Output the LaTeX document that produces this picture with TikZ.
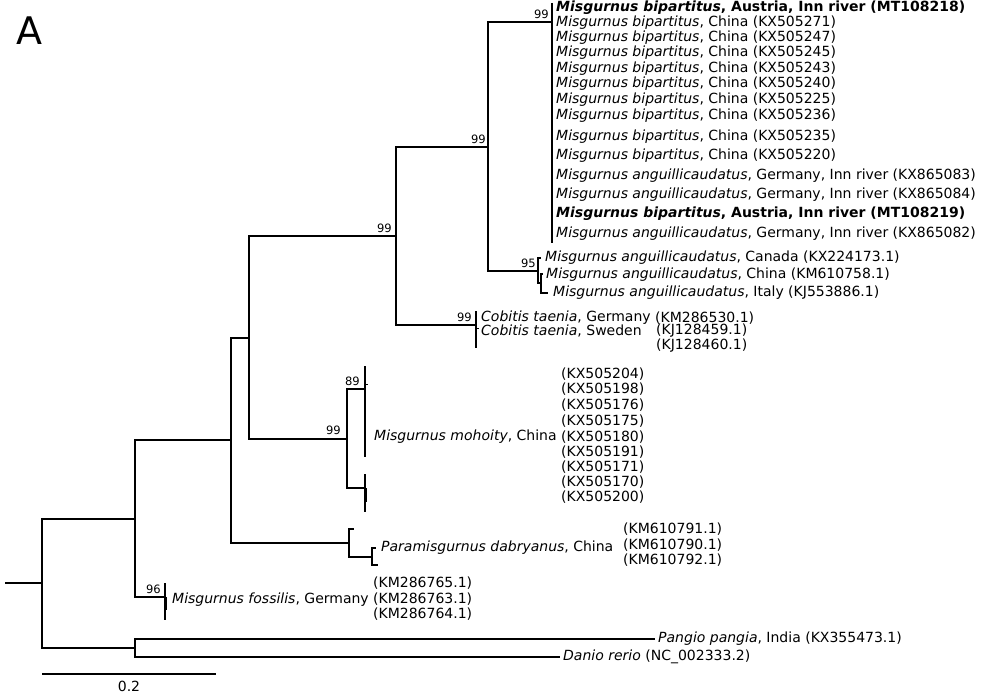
\documentclass[tikz,border=0pt]{standalone}
\usepackage{fontspec}
\setmainfont{DejaVu Sans}
\usetikzlibrary{positioning}

\tikzset{
  branch/.style={line width=1.7pt},
  tip/.style={anchor=west,inner sep=0pt,font=\fontsize{14}{16}\selectfont},
  boot/.style={anchor=south east,inner sep=0pt,font=\fontsize{11.5}{13}\selectfont},
}

\begin{document}
\begin{tikzpicture}[x=1pt,y=-1pt]
\useasboundingbox (0,0) rectangle (981,693);
\node[anchor=west,inner sep=0pt,font=\fontsize{38}{42}\selectfont] (panel) at (16,31) {A};

% internal nodes
\coordinate (r0) at (5,583);
\coordinate (root) at (42,583);
\coordinate (n1) at (135,519);
\coordinate (n2) at (135,648);
\coordinate (n3) at (231,440);
\coordinate (fos) at (165,597);
\coordinate (n4) at (249,338);
\coordinate (par) at (349,543);
\coordinate (n5) at (396,236);
\coordinate (moh) at (347,439);
\coordinate (n6) at (488,147);
\coordinate (cob) at (476,325);
\coordinate (bip) at (552,22);
\coordinate (ang) at (538,271);
\coordinate (ang2) at (541,283);
\coordinate (moh1) at (365,389);
\coordinate (moh2) at (365,488);
\coordinate (par1) at (372,557);

% tips
\coordinate (tcan) at (541,258);
\coordinate (tchi) at (543,274);
\coordinate (tita) at (548,293);
\coordinate (tpar1) at (354,529);
\coordinate (tpar2) at (376,548);
\coordinate (tpar3) at (378,565);
\coordinate (tpan) at (655,639);
\coordinate (tdan) at (560,657);

% collapsed clades
\coordinate (bipt) at (552,3);
\coordinate (bipb) at (552,243);
\coordinate (cobt) at (476,311);
\coordinate (cobb) at (476,348);
\coordinate (fost) at (165,583);
\coordinate (fosb) at (165,620);
\coordinate (moh1t) at (365,366);
\coordinate (moh1b) at (365,457);
\coordinate (moh2t) at (365,474);
\coordinate (moh2b) at (365,512);

\draw[branch] (r0) -- (root);
\draw[branch] (root) |- (n1);
\draw[branch] (root) |- (n2);
\draw[branch] (n1) |- (n3);
\draw[branch] (n1) |- (fos);
\draw[branch] (n2) |- (tpan);
\draw[branch] (n2) |- (tdan);
\draw[branch] (n3) |- (n4);
\draw[branch] (n3) |- (par);
\draw[branch] (n4) |- (n5);
\draw[branch] (n4) |- (moh);
\draw[branch] (n5) |- (n6);
\draw[branch] (n5) |- (cob);
\draw[branch] (n6) |- (bip);
\draw[branch] (n6) |- (ang);
\draw[branch] (ang) |- (tcan);
\draw[branch] (ang) |- (ang2);
\draw[branch] (ang2) |- (tchi);
\draw[branch] (ang2) |- (tita);
\draw[branch] (moh) |- (moh1);
\draw[branch] (moh) |- (moh2);
\draw[branch] (par) |- (tpar1);
\draw[branch] (par) |- (par1);
\draw[branch] (par1) |- (tpar2);
\draw[branch] (par1) |- (tpar3);

\draw[branch] (bipt) -- (bipb);
\draw[branch] (cobt) -- (cobb);
\draw[branch] (fost) -- (fosb);
\draw[branch] (moh1t) -- (moh1b);
\draw[branch] (moh2t) -- (moh2b);
\draw[line width=1pt] (cob |- 0,328) -- ++(3,0);
\draw[line width=1pt] (moh1 |- 0,384) -- ++(3,0);
\draw[line width=2.8pt] (166,597) -- (166,610);
\draw[line width=2.8pt] (366,488) -- (366,502);

% bootstrap values
\node[boot] (b1) at (549,19) {99};
\node[boot] (b2) at (486,144) {99};
\node[boot] (b3) at (392,233) {99};
\node[boot] (b4) at (472,322) {99};
\node[boot] (b5) at (536,268) {95};
\node[boot] (b6) at (360,386) {89};
\node[boot] (b7) at (341,435) {99};
\node[boot] (b8) at (161,594) {96};

% taxa
\node[tip] (t1) at (556,8) {\bfseries\textit{Misgurnus bipartitus}, Austria, Inn river (MT108218)};
\node[tip] (t2) at (556,23) {\textit{Misgurnus bipartitus}, China (KX505271)};
\node[tip] (t3) at (556,38) {\textit{Misgurnus bipartitus}, China (KX505247)};
\node[tip] (t4) at (556,53) {\textit{Misgurnus bipartitus}, China (KX505245)};
\node[tip] (t5) at (556,69) {\textit{Misgurnus bipartitus}, China (KX505243)};
\node[tip] (t6) at (556,84) {\textit{Misgurnus bipartitus}, China (KX505240)};
\node[tip] (t7) at (556,100) {\textit{Misgurnus bipartitus}, China (KX505225)};
\node[tip] (t8) at (556,116) {\textit{Misgurnus bipartitus}, China (KX505236)};
\node[tip] (t9) at (556,137) {\textit{Misgurnus bipartitus}, China (KX505235)};
\node[tip] (t10) at (556,156) {\textit{Misgurnus bipartitus}, China (KX505220)};
\node[tip] (t11) at (556,176) {\textit{Misgurnus anguillicaudatus}, Germany, Inn river (KX865083)};
\node[tip] (t12) at (556,195) {\textit{Misgurnus anguillicaudatus}, Germany, Inn river (KX865084)};
\node[tip] (t13) at (556,214) {\bfseries\textit{Misgurnus bipartitus}, Austria, Inn river (MT108219)};
\node[tip] (t14) at (556,234) {\textit{Misgurnus anguillicaudatus}, Germany, Inn river (KX865082)};
\node[tip] (t15) at (545,258) {\textit{Misgurnus anguillicaudatus}, Canada (KX224173.1)};
\node[tip] (t16) at (546,275) {\textit{Misgurnus anguillicaudatus}, China (KM610758.1)};
\node[tip] (t17) at (553,293) {\textit{Misgurnus anguillicaudatus}, Italy (KJ553886.1)};

\node[tip] (cob1) at (481,318) {\textit{Cobitis taenia}, Germany};
\node[tip] (cob2) at (481,331) {\textit{Cobitis taenia}, Sweden};
\node[tip] (cacc1) at (655,318) {(KM286530.1)};
\node[tip] (cacc2) at (656,331) {(KJ128459.1)};
\node[tip] (cacc3) at (656,346) {(KJ128460.1)};

\node[tip] (mohname) at (374,437) {\textit{Misgurnus mohoity}, China};
\node[tip] (macc1) at (561,374) {(KX505204)};
\node[tip] (macc2) at (561,389) {(KX505198)};
\node[tip] (macc3) at (561,405) {(KX505176)};
\node[tip] (macc4) at (561,421) {(KX505175)};
\node[tip] (macc5) at (561,437) {(KX505180)};
\node[tip] (macc6) at (561,452) {(KX505191)};
\node[tip] (macc7) at (561,467) {(KX505171)};
\node[tip] (macc8) at (561,482) {(KX505170)};
\node[tip] (macc9) at (561,497) {(KX505200)};

\node[tip] (parname) at (381,548) {\textit{Paramisgurnus dabryanus}, China};
\node[tip] (pacc1) at (623,529) {(KM610791.1)};
\node[tip] (pacc2) at (623,545) {(KM610790.1)};
\node[tip] (pacc3) at (623,560) {(KM610792.1)};

\node[tip] (fosname) at (172,600) {\textit{Misgurnus fossilis}, Germany};
\node[tip] (facc1) at (373,583) {(KM286765.1)};
\node[tip] (facc2) at (373,599) {(KM286763.1)};
\node[tip] (facc3) at (373,614) {(KM286764.1)};

\node[tip,right=3pt of tpan] (pan) {\textit{Pangio pangia}, India (KX355473.1)};
\node[tip,right=3pt of tdan] (dan) {\textit{Danio rerio} (NC\_002333.2)};

% scale bar
\coordinate (sb0) at (42,674);
\coordinate (sb1) at (216,674);
\draw[line width=1.5pt] (sb0) -- (sb1);
\node[font=\fontsize{14}{16}\selectfont,inner sep=0pt] (sblab) at (129,686) {0.2};
\end{tikzpicture}
\end{document}
